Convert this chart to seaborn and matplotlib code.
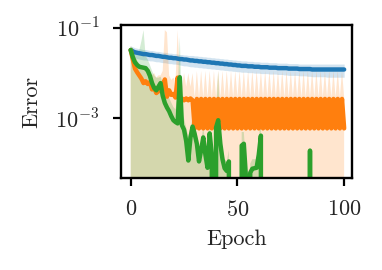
import numpy as np
import pandas as pd
import seaborn as sns
import matplotlib.pyplot as plt

# error curves per epoch, stored as log10 values (None = error exactly 0)
epochs = list(range(101))

blue_mean = [-1.49, -1.52, -1.54, -1.55, -1.56, -1.57, -1.58, -1.58, -1.59, -1.60,
             -1.60, -1.61, -1.62, -1.62, -1.63, -1.64, -1.64, -1.65, -1.66, -1.66,
             -1.67, -1.67, -1.68, -1.69, -1.69, -1.70, -1.70, -1.71, -1.72, -1.72,
             -1.73, -1.73, -1.74, -1.74, -1.75, -1.75, -1.76, -1.76, -1.77, -1.77,
             -1.78, -1.78, -1.79, -1.79, -1.80, -1.80, -1.81, -1.81, -1.82, -1.82,
             -1.83, -1.83, -1.84, -1.84, -1.84, -1.85, -1.85, -1.85, -1.86, -1.86,
             -1.86, -1.87, -1.87, -1.87, -1.87, -1.88, -1.88, -1.88, -1.88, -1.89,
             -1.89, -1.89, -1.89, -1.89, -1.90, -1.90, -1.90, -1.90, -1.90, -1.91,
             -1.91, -1.91, -1.91, -1.91, -1.91, -1.92, -1.92, -1.92, -1.92, -1.92,
             -1.92, -1.92, -1.92, -1.92, -1.92, -1.92, -1.92, -1.92, -1.92, -1.92, -1.92]
blue_hi = [-1.40, -1.42, -1.44, -1.45, -1.46, -1.47, -1.48, -1.48, -1.49, -1.50,
           -1.50, -1.51, -1.52, -1.52, -1.53, -1.54, -1.54, -1.55, -1.56, -1.56,
           -1.57, -1.57, -1.58, -1.59, -1.59, -1.60, -1.60, -1.61, -1.61, -1.61,
           -1.62, -1.62, -1.63, -1.63, -1.64, -1.64, -1.65, -1.65, -1.66, -1.66,
           -1.67, -1.67, -1.68, -1.68, -1.69, -1.69, -1.70, -1.70, -1.71, -1.71,
           -1.72, -1.72, -1.73, -1.73, -1.73, -1.74, -1.74, -1.74, -1.75, -1.75,
           -1.75, -1.76, -1.76, -1.76, -1.76, -1.77, -1.77, -1.77, -1.77, -1.78,
           -1.78, -1.78, -1.78, -1.78, -1.79, -1.79, -1.79, -1.79, -1.79, -1.80,
           -1.80, -1.80, -1.80, -1.80, -1.80, -1.80, -1.80, -1.80, -1.80, -1.80,
           -1.80, -1.80, -1.80, -1.80, -1.80, -1.80, -1.80, -1.80, -1.80, -1.80, -1.80]
blue_lo = [-1.60, -1.64, -1.66, -1.68, -1.69, -1.70, -1.71, -1.71, -1.72, -1.73,
           -1.73, -1.74, -1.75, -1.75, -1.76, -1.77, -1.77, -1.78, -1.79, -1.79,
           -1.80, -1.80, -1.81, -1.82, -1.83, -1.84, -1.84, -1.85, -1.86, -1.86,
           -1.87, -1.87, -1.88, -1.88, -1.89, -1.89, -1.90, -1.90, -1.91, -1.91,
           -1.92, -1.92, -1.93, -1.93, -1.94, -1.94, -1.95, -1.95, -1.96, -1.96,
           -1.97, -1.97, -1.98, -1.98, -1.98, -1.99, -1.99, -1.99, -2.00, -2.00,
           -2.00, -2.01, -2.01, -2.01, -2.01, -2.02, -2.02, -2.02, -2.02, -2.03,
           -2.03, -2.03, -2.04, -2.04, -2.05, -2.05, -2.05, -2.05, -2.05, -2.06,
           -2.06, -2.06, -2.06, -2.07, -2.07, -2.08, -2.08, -2.08, -2.08, -2.08,
           -2.08, -2.08, -2.09, -2.09, -2.09, -2.09, -2.09, -2.09, -2.09, -2.09, -2.09]

orange_mean = [-1.49, -1.70, -1.90, -1.98, -2.05, -2.12, -2.22, -2.18, -2.24, -2.20,
               -2.36, -2.32, -2.44, -2.40, -2.38, -2.30, -2.14, -2.52, -2.38, -2.48,
               -2.46, -2.54, -2.10, -2.60, -2.56, -2.60, -2.56, -2.60, -2.56, -2.60,
               -3.22, -2.57, -3.22, -2.57, -3.22, -2.57, -3.22, -2.57, -3.22, -2.57,
               -3.22, -2.57, -3.22, -2.57, -3.22, -2.57, -3.22, -2.57, -3.22, -2.57,
               -3.22, -2.57, -3.22, -2.57, -3.22, -2.57, -3.22, -2.57, -3.22, -2.57,
               -3.22, -2.57, -3.22, -2.57, -3.22, -2.57, -3.22, -2.57, -3.22, -2.57,
               -3.22, -2.57, -3.22, -2.57, -3.22, -2.57, -3.22, -2.57, -3.22, -2.57,
               -3.22, -2.57, -3.22, -2.57, -3.22, -2.57, -3.22, -2.57, -3.22, -2.57,
               -3.22, -2.57, -3.22, -2.57, -3.22, -2.57, -3.22, -2.57, -3.22, -2.57, -3.22]
orange_hi = [-1.40, -1.50, -1.62, -1.72, -1.80, -1.85, -1.92, -1.90, -1.95, -1.92,
             -2.05, -2.00, -2.10, -2.05, -2.05, -1.95, -1.05, -1.10, -2.05, -2.15,
             -2.10, -2.20, -1.05, -2.00, -2.30, -2.00, -2.30, -2.00, -2.30, -2.00,
             -2.53, -1.95, -2.53, -1.95, -2.53, -1.95, -2.53, -1.95, -2.53, -1.95,
             -2.53, -1.95, -2.53, -1.95, -2.53, -1.95, -2.53, -1.95, -2.53, -1.95,
             -2.53, -1.95, -2.53, -1.95, -2.53, -1.95, -2.53, -1.95, -2.53, -1.95,
             -2.53, -1.95, -2.53, -1.95, -2.53, -1.95, -2.53, -1.95, -2.53, -1.95,
             -2.53, -1.95, -2.53, -1.95, -2.53, -1.95, -2.53, -1.95, -2.53, -1.95,
             -2.53, -1.95, -2.53, -1.95, -2.53, -1.95, -2.53, -1.95, -2.53, -1.95,
             -2.53, -1.95, -2.53, -1.95, -2.53, -1.95, -2.53, -1.95, -2.53, -1.95, -2.53]

green_mean = [-1.49, -1.65, -1.76, -1.82, -1.86, -1.87, -1.88, -1.89, -1.95, -2.06,
              -2.22, -2.33, -2.38, -2.30, -2.22, -2.50, -2.66, -2.76, -2.84, -2.95,
              -3.04, -3.08, -3.11, -2.09, -3.15, -3.25, -3.50, -3.93, -3.42, -3.18,
              -3.35, -3.56, -3.95, -3.70, -3.42, -3.80, -4.09, -3.33, -3.80, None,
              -3.20, -3.04, -3.56, -3.90, -4.10, -4.16, -3.95, None, None, None,
              None, None, -3.60, -3.56, -4.30, None, -4.20, -4.11, -4.10, -4.09,
              -3.80, -3.38, None, None, None, None, None, None, None, None,
              None, None, None, None, None, None, None, None, None, None,
              None, None, None, None, -3.71, None, None, None, None, None,
              None, None, None, None, None, None, None, None, None, None, None]
green_hi = [-1.40, -1.45, -1.52, -1.58, -1.50, -1.30, -1.05, -1.62, -1.70, -1.82,
            -1.95, -2.05, -2.10, -2.10, -2.08, -2.22, -2.35, -2.45, -2.55, -2.65,
            -2.75, -2.80, -2.50, -1.20, -2.90, -3.00, -3.20, -3.40, -3.20, -3.00,
            -3.15, -3.35, -3.70, -3.50, -3.20, -3.55, -3.90, -3.10, -3.60, None,
            -2.90, -1.95, -3.30, -3.70, -3.90, -3.95, -3.70, None, None, None,
            None, None, -3.30, -3.30, -4.00, None, -4.00, -3.90, -3.90, -3.90,
            -3.50, -2.90, None, None, None, None, None, None, None, None,
            None, None, None, None, None, None, None, None, None, None,
            None, None, None, None, -2.90, None, None, None, None, None,
            None, None, None, None, None, None, None, None, None, None, None]

series_names = ['blue', 'orange', 'green']
colors = ['#1f77b4', '#ff7f0e', '#2ca02c']


def to_error(log_vals):
    a = np.array([np.nan if v is None else v for v in log_vals], dtype=float)
    return np.where(np.isnan(a), 0.0, 10 ** a)


means = [blue_mean, orange_mean, green_mean]
his = [blue_hi, orange_hi, green_hi]
los = [blue_lo, None, None]

frames = []
for name, m in zip(series_names, means):
    frames.append(pd.DataFrame({'Epoch': epochs, 'Error': to_error(m), 'run': name}))
df = pd.concat(frames, ignore_index=True)

sns.set_theme(style='ticks')
plt.rcParams['font.family'] = ['cmr10']
plt.rcParams['mathtext.fontset'] = 'cm'
plt.rcParams['axes.unicode_minus'] = False
plt.rcParams['axes.formatter.use_mathtext'] = True

fig = plt.figure(figsize=(3.82, 2.70), dpi=100)
ax = fig.add_axes([0.317, 0.340, 0.604, 0.567])

# confidence bands
for c, hi, lo in zip(colors, his, los):
    lower = 0 if lo is None else to_error(lo)
    ax.fill_between(epochs, to_error(hi), lower, color=c, alpha=0.2, linewidth=0)

sns.lineplot(data=df, x='Epoch', y='Error', hue='run', palette=colors,
             errorbar=None, linewidth=3.2, legend=False, ax=ax)

ax.set_yscale('log')
ax.set_xlim(-4.5, 103.6)
ax.set_ylim(10 ** -4.32, 10 ** -0.94)
ax.set_xticks([0, 50, 100])
ax.set_yticks([1e-1, 1e-3])
ax.set_yticklabels(['$10^{-1}$', '$10^{-3}$'])
ax.minorticks_off()
ax.tick_params(labelsize=16, length=5.5, width=1.6, pad=10, color='black')
ax.set_xlabel('Epoch', fontsize=16, labelpad=7)
ax.set_ylabel('Error', fontsize=16, labelpad=10)
for s in ax.spines.values():
    s.set_color('black')
    s.set_linewidth(1.7)

fig.savefig('out.png', dpi=100)
